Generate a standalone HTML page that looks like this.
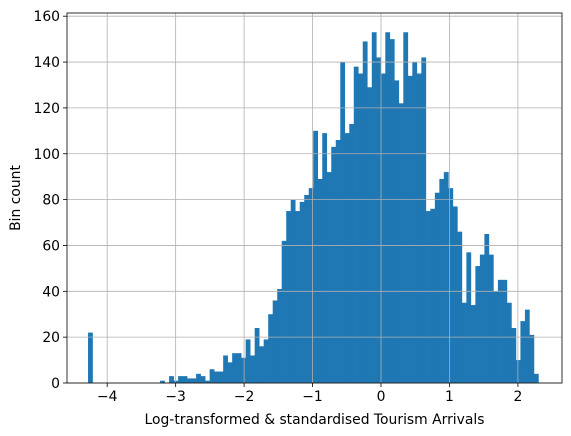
<!DOCTYPE html>
<html><head><meta charset="utf-8"><style>
html,body{margin:0;padding:0;background:#fff;}
svg{display:block;font-family:"DejaVu Sans","Liberation Sans",sans-serif;}
</style></head><body>
<svg id="chart" width="571" height="436" viewBox="0 0 571 436" xmlns="http://www.w3.org/2000/svg">
<rect x="0" y="0" width="571" height="436" fill="#fff"/>
<g id="bars"></g>
<g id="grid"></g>
<g id="axes"></g>
</svg>
<script>
const binStart = -4.28;
const binWidth = 0.0658;
const counts = [22,0,0,0,0,0,0,0,0,0,0,0,0,0,0,0,1,0,3,1,3,3,2,2,4,3,1,6,5,5,12,9,13,13,11,19,12,24,16,19,30,36,41,62,75,80,75,79,82,85,110,89,109,92,103,106,140,109,113,138,135,149,129,153,142,135,153,150,132,122,153,134,140,135,142,75,76,83,89,92,85,77,66,35,57,34,51,56,65,56,40,45,45,35,24,10,27,32,21,4];
const xTicks = [-4,-3,-2,-1,0,1,2];
const yTicks = [0,20,40,60,80,100,120,140,160];

const L=67,R=562,T=13,B=383;
const xs = v => 381 + (v-0)*68.45;
const ys = v => 383 - v*2.2925;
const NS="http://www.w3.org/2000/svg";
function mk(tag, attrs, parent){const e=document.createElementNS(NS,tag);for(const k in attrs)e.setAttribute(k,attrs[k]);parent.appendChild(e);return e;}
const bars=document.getElementById('bars'), grid=document.getElementById('grid'), axes=document.getElementById('axes');
counts.forEach((c,i)=>{
  const x0=xs(binStart+i*binWidth), x1=xs(binStart+(i+1)*binWidth);
  if(c<=0) return;
  const r=mk('rect',{x:x0,y:ys(c),width:x1-x0+0.3,height:ys(0)-ys(c),fill:'#1f77b4'},bars);
  
  
});
xTicks.forEach(v=>{
  const l=mk('line',{x1:xs(v),x2:xs(v),y1:T,y2:B,stroke:'#b0b0b0','stroke-width':0.8},grid);
  
  
  mk('line',{x1:xs(v),x2:xs(v),y1:B,y2:B+4,stroke:'#000','stroke-width':0.8},axes);
  const t=mk('text',{x:xs(v),y:B+18,'font-size':13.9,'text-anchor':'middle',fill:'#000'},axes);
  t.textContent=(v<0?'\u2212'+(-v):''+v);
  
  
});
yTicks.forEach(v=>{
  const l=mk('line',{x1:L,x2:R,y1:ys(v),y2:ys(v),stroke:'#b0b0b0','stroke-width':0.8},grid);
  
  
  mk('line',{x1:L-4,x2:L,y1:ys(v),y2:ys(v),stroke:'#000','stroke-width':0.8},axes);
  const t=mk('text',{x:L-7,y:ys(v)+5,'font-size':13.9,'text-anchor':'end',fill:'#000'},axes);
  t.textContent=''+v;
  
  
});
const frame=mk('rect',{x:L,y:T,width:R-L,height:B-T,fill:'none',stroke:'#000','stroke-width':0.8},axes);


const xl=mk('text',{x:(L+R)/2,y:424,'font-size':13.9,'text-anchor':'middle',fill:'#000'},axes);
xl.textContent='Log-transformed & standardised Tourism Arrivals';


const yl=mk('text',{x:20,y:(T+B)/2,'font-size':13.9,'text-anchor':'middle',fill:'#000',transform:'rotate(-90 20 '+((T+B)/2)+')'},axes);
yl.textContent='Bin count';


</script>
</body></html>
